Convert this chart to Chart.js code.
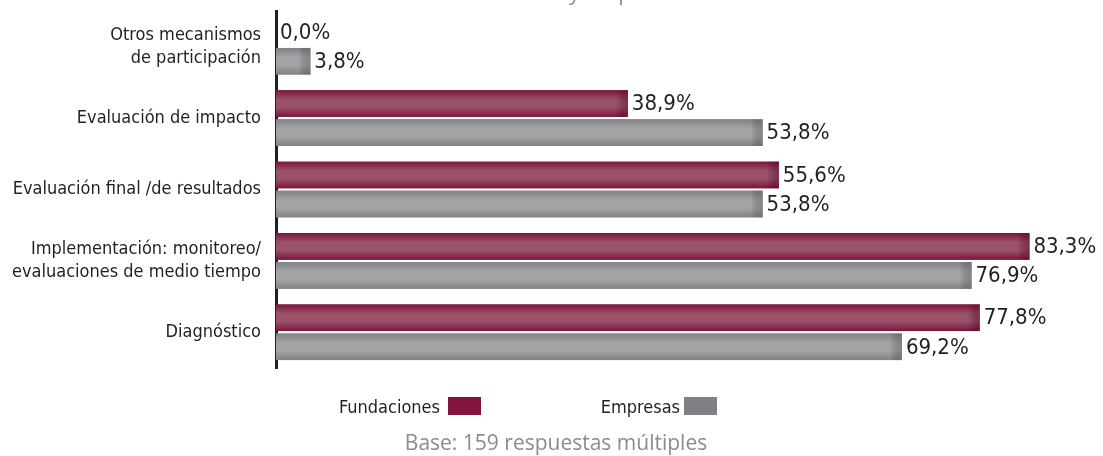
<!DOCTYPE html>
<html>
<head>
<meta charset="utf-8">
<script src="https://cdn.jsdelivr.net/npm/chart.js@4.4.1/dist/chart.umd.min.js"></script>
<style>
  html, body { margin: 0; padding: 0; background: #fff; }
  #wrap { width: 1103px; height: 456px; position: relative; }
</style>
</head>
<body>
<div id="wrap"><canvas id="chart"></canvas></div>
<script>
// categories (top to bottom)
const categories = [
    ['Otros mecanismos', 'de participación'],
    'Evaluación de impacto',
    'Evaluación final /de resultados',
    ['Implementación: monitoreo/', 'evaluaciones de medio tiempo'],
    'Diagnóstico'
];
const fundaciones = [0.0, 38.9, 55.6, 83.3, 77.8];
const empresas = [3.8, 53.8, 53.8, 76.9, 69.2];
const seriesNames = ['Fundaciones', 'Empresas'];
const titleText = 'Fundaciones y Empresas';
const footerText = 'Base: 159 respuestas múltiples';

const narrow = '"DejaVu Sans Condensed", "Liberation Sans Narrow", sans-serif';
const valueFont = '"DejaVu Sans Condensed", "DejaVu Sans", sans-serif';

// dark edge / light centre for each series
const shades = [
    { edge: '#7c1440', mid: '#9a5269', end: 'rgba(110,10,50,0.5)', solid: '#831641' },
    { edge: '#818285', mid: '#a3a4a6', end: 'rgba(90,90,95,0.4)', solid: '#808184' }
];

function fmt(v) {
    return v.toFixed(1).replace('.', ',') + '%';
}

// bevelled look of the bars
const barShading = {
    id: 'barShading',
    afterDatasetsDraw(chart) {
        const ctx = chart.ctx;
        chart.data.datasets.forEach((ds, di) => {
            const meta = chart.getDatasetMeta(di);
            const s = shades[di];
            meta.data.forEach((bar) => {
                const p = bar.getProps(['x', 'y', 'base', 'height'], true);
                const left = Math.min(p.base, p.x), right = Math.max(p.base, p.x);
                const top = p.y - p.height / 2, bottom = p.y + p.height / 2;
                if (right - left < 0.5) return;
                ctx.save();
                const g = ctx.createLinearGradient(0, top, 0, bottom);
                g.addColorStop(0, s.edge);
                g.addColorStop(0.35, s.mid);
                g.addColorStop(0.65, s.mid);
                g.addColorStop(1, s.edge);
                ctx.fillStyle = g;
                ctx.fillRect(left, top, right - left, bottom - top);
                const w = Math.min(12, (right - left) / 2);
                const h = ctx.createLinearGradient(right - w, 0, right, 0);
                h.addColorStop(0, 'rgba(0,0,0,0)');
                h.addColorStop(1, s.end);
                ctx.fillStyle = h;
                ctx.fillRect(right - w, top, w, bottom - top);
                ctx.restore();
            });
        });
    }
};

// value labels, title, legend and footer
const annotations = {
    id: 'annotations',
    afterDraw(chart) {
        const ctx = chart.ctx;
        ctx.save();
        ctx.fillStyle = '#231f20';
        ctx.font = '22px ' + valueFont;
        ctx.textAlign = 'left';
        ctx.textBaseline = 'middle';
        chart.data.datasets.forEach((ds, di) => {
            const meta = chart.getDatasetMeta(di);
            meta.data.forEach((bar, i) => {
                const p = bar.getProps(['x', 'y'], true);
                ctx.fillText(fmt(ds.data[i]), p.x + 4, p.y + 1);
            });
        });

        // title, cut off by the top edge
        ctx.fillStyle = '#8a8b8d';
        ctx.font = '22px "Open Sans", sans-serif';
        ctx.textAlign = 'center';
        ctx.textBaseline = 'alphabetic';
        ctx.fillText(titleText, 560, 0);

        // legend: text then swatch
        const items = [{ box: 448 }, { box: 684 }];
        ctx.font = '18px ' + narrow;
        ctx.textAlign = 'right';
        items.forEach((it, i) => {
            ctx.fillStyle = shades[i].solid;
            ctx.fillRect(it.box, 397, 33, 18);
            ctx.fillStyle = '#231f20';
            ctx.fillText(seriesNames[i], it.box - (i === 0 ? 8 : 4), 413);
        });

        // footer
        ctx.fillStyle = '#8a8b8d';
        ctx.font = '21px "Open Sans", sans-serif';
        ctx.textAlign = 'center';
        ctx.fillText(footerText, 556, 450);
        ctx.restore();
    }
};

new Chart(document.getElementById('chart'), {
    type: 'bar',
    data: {
        labels: categories,
        datasets: [
            { label: seriesNames[0], data: fundaciones, backgroundColor: shades[0].solid },
            { label: seriesNames[1], data: empresas, backgroundColor: shades[1].solid }
        ]
    },
    options: {
        indexAxis: 'y',
        responsive: true,
        maintainAspectRatio: false,
        animation: false,
        categoryPercentage: 0.814,
        barPercentage: 0.914,
        layout: {
            padding: { top: 11, bottom: 88, left: 0, right: 13 }
        },
        plugins: {
            legend: { display: false },
            tooltip: { enabled: false }
        },
        scales: {
            x: {
                display: false,
                min: 0,
                max: 90
            },
            y: {
                grid: { display: false, drawTicks: false },
                border: { display: true, color: '#231f20', width: 3 },
                ticks: {
                    color: '#231f20',
                    padding: 15,
                    font: { family: narrow, size: 18, lineHeight: 1.3 }
                },
                afterFit(scale) {
                    scale.width = 276;
                    scale.paddingTop = 0;
                    scale.paddingBottom = 0;
                }
            }
        }
    },
    plugins: [barShading, annotations]
});
</script>
</body>
</html>
